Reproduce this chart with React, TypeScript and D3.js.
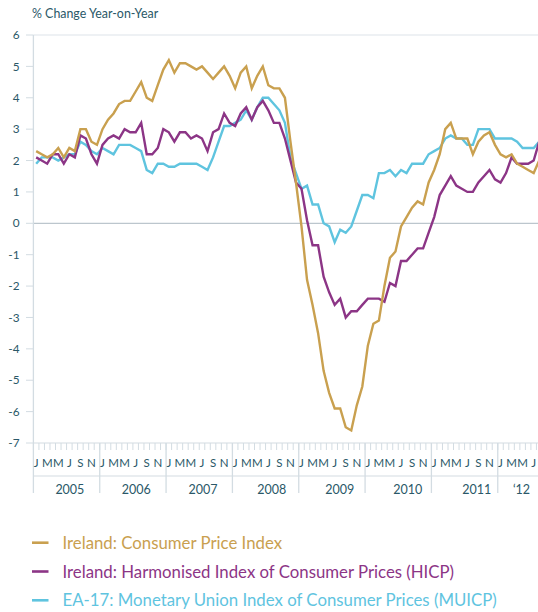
import React from "react";
import * as d3 from "d3";

// Jan 2005 – Aug 2012, monthly, % change year-on-year
const cpi = [
  2.3, 2.2, 2.1, 2.2, 2.4, 2.1, 2.4, 2.3, 3.0, 3.0, 2.6, 2.5,
  3.0, 3.3, 3.5, 3.8, 3.9, 3.9, 4.2, 4.5, 4.0, 3.9, 4.4, 4.9,
  5.2, 4.8, 5.1, 5.1, 5.0, 4.9, 5.0, 4.8, 4.6, 4.8, 5.0, 4.7,
  4.3, 4.8, 5.0, 4.3, 4.7, 5.0, 4.4, 4.3, 4.3, 4.0, 2.6, 1.3,
  -0.1, -1.8, -2.6, -3.5, -4.7, -5.4, -5.9, -5.9, -6.5, -6.6, -5.8, -5.2,
  -3.9, -3.2, -3.1, -2.0, -1.1, -0.9, -0.1, 0.2, 0.5, 0.7, 0.6, 1.3,
  1.7, 2.2, 3.0, 3.2, 2.7, 2.7, 2.7, 2.2, 2.6, 2.8, 2.9, 2.5,
  2.2, 2.1, 2.2, 1.9, 1.8, 1.7, 1.6, 2.0,
];
const hicp = [
  2.1, 2.0, 1.9, 2.2, 2.2, 1.9, 2.2, 2.1, 2.8, 2.7, 2.2, 1.9,
  2.5, 2.7, 2.8, 2.7, 3.0, 2.9, 2.9, 3.2, 2.2, 2.2, 2.4, 3.0,
  2.9, 2.6, 2.9, 2.9, 2.7, 2.8, 2.7, 2.3, 2.9, 3.0, 3.5, 3.2,
  3.1, 3.5, 3.7, 3.3, 3.7, 3.9, 3.6, 3.2, 3.2, 2.7, 2.0, 1.3,
  1.1, 0.1, -0.7, -0.7, -1.7, -2.2, -2.6, -2.4, -3.0, -2.8, -2.8, -2.6,
  -2.4, -2.4, -2.4, -2.5, -1.9, -2.0, -1.2, -1.2, -1.0, -0.8, -0.8, -0.3,
  0.2, 0.9, 1.2, 1.5, 1.2, 1.1, 1.0, 1.0, 1.3, 1.5, 1.7, 1.4,
  1.3, 1.6, 2.1, 1.9, 1.9, 1.9, 2.0, 2.6,
];
const muicp = [
  1.9, 2.1, 2.1, 2.1, 2.0, 2.1, 2.2, 2.2, 2.6, 2.5, 2.3, 2.2,
  2.4, 2.3, 2.2, 2.5, 2.5, 2.5, 2.4, 2.3, 1.7, 1.6, 1.9, 1.9,
  1.8, 1.8, 1.9, 1.9, 1.9, 1.9, 1.8, 1.7, 2.1, 2.6, 3.1, 3.1,
  3.2, 3.3, 3.6, 3.3, 3.7, 4.0, 4.0, 3.8, 3.6, 3.2, 2.1, 1.6,
  1.1, 1.2, 0.6, 0.6, 0.0, -0.1, -0.6, -0.2, -0.3, -0.1, 0.4, 0.9,
  0.9, 0.8, 1.6, 1.6, 1.7, 1.5, 1.7, 1.6, 1.9, 1.9, 1.9, 2.2,
  2.3, 2.4, 2.7, 2.8, 2.7, 2.7, 2.5, 2.5, 3.0, 3.0, 3.0, 2.7,
  2.7, 2.7, 2.7, 2.6, 2.4, 2.4, 2.4, 2.6,
];

const yearLabels = ["2005", "2006", "2007", "2008", "2009", "2010", "2011", "\u201812"];
const monthLetters = ["J", "", "M", "", "M", "", "J", "", "S", "", "N", ""];
const yTicks = [6, 5, 4, 3, 2, 1, 0, -1, -2, -3, -4, -5, -6, -7];

const seriesNames = [
  "Ireland: Consumer Price Index",
  "Ireland: Harmonised Index of Consumer Prices (HICP)",
  "EA-17: Monetary Union Index of Consumer Prices (MUICP)",
];
const seriesColors = ["#c9a04f", "#8c3586", "#5fc4df"];

// layout
const W = 538;
const H = 612;
const X0 = 33.4;
const MONTH_W = 5.528;
const NMONTHS = 92;
const Y_TOP = 35;
const Y_BOT = 443;
const TEXT = "#2a5868";
const FONT = "Lato, 'Open Sans', sans-serif";
// year-label centre positions in month units (as placed in the original)
const yearLabelPos = [6.6, 18.6, 30.7, 43.1, 55.4, 67.7, 80.2, 88.3];

export default function App() {
  const x = d3.scaleLinear().domain([0, NMONTHS]).range([X0, X0 + NMONTHS * MONTH_W]);
  const y = d3.scaleLinear().domain([-7, 6]).range([Y_BOT, Y_TOP]);
  const line = d3
    .line<number>()
    .x((_, i) => x(i + 0.5))
    .y((d) => y(d));

  const data = [cpi, hicp, muicp];
  const gridColor = "#d3dce2";
  const monthIdx = d3.range(NMONTHS);
  const yearStarts = d3.range(0, NMONTHS, 12);

  return (
    <svg
      width={W}
      height={H}
      style={{ position: "absolute", left: 0, top: 0, background: "#fff" }}
      fontFamily={FONT}
    >
      <defs>
        <clipPath id="plot">
          <rect x={X0} y={0} width={W - X0} height={Y_BOT + 5} />
        </clipPath>
      </defs>
      <text x={32} y={17.5} fontSize={12.4} fill={TEXT}>
        % Change Year-on-Year
      </text>

      {/* y ticks and labels */}
      {yTicks.map((t) => (
        <g key={t}>
          <line x1={26} x2={X0} y1={y(t)} y2={y(t)} stroke={gridColor} strokeWidth={1} />
          <text x={19.5} y={y(t)} dy="0.35em" textAnchor="end" fontSize={11.8} fill={TEXT}>
            {t < 0 ? `-${Math.abs(t)}` : t}
          </text>
        </g>
      ))}
      {/* horizontal lines */}
      <line x1={X0} x2={W} y1={y(6)} y2={y(6)} stroke="#dde4e9" strokeWidth={1.2} />
      <line x1={X0} x2={W} y1={y(0)} y2={y(0)} stroke="#bcc6cd" strokeWidth={1.2} />
      <line x1={X0} x2={W} y1={y(-7)} y2={y(-7)} stroke={gridColor} strokeWidth={1.2} />
      <line x1={X0} x2={W} y1={476} y2={476} stroke={gridColor} strokeWidth={1.2} />

      {/* month ticks */}
      {monthIdx.map((i) => (
        <line key={i} x1={x(i)} x2={x(i)} y1={Y_BOT} y2={Y_BOT + 7} stroke={gridColor} strokeWidth={1} />
      ))}
      {/* year dividers */}
      {yearStarts.map((s) => (
        <line key={s} x1={x(s)} x2={x(s)} y1={s === 0 ? Y_TOP : Y_BOT} y2={493} stroke={gridColor} strokeWidth={1.3} />
      ))}
      {/* month letters */}
      {monthIdx.map((i) =>
        monthLetters[i % 12] ? (
          <text key={i} x={x(i + 0.5)} y={466.5} textAnchor="middle" fontSize={11.5} fill={TEXT}>
            {monthLetters[i % 12]}
          </text>
        ) : null
      )}
      {/* year labels */}
      {yearLabels.map((lab, k) => (
        <text key={lab} x={x(yearLabelPos[k])} y={494} textAnchor="middle" fontSize={12.5} fill={TEXT}>
          {lab}
        </text>
      ))}

      {/* series */}
      <g clipPath="url(#plot)">
        {[2, 1, 0].map((k) => (
          <path key={k} d={line(data[k]) || ""} fill="none" stroke={seriesColors[k]} strokeWidth={2.4} />
        ))}
      </g>

      {/* legend */}
      {seriesNames.map((name, k) => (
        <g key={name} transform={`translate(0, ${542.7 + k * 28.8})`}>
          <line x1={32} x2={48.5} y1={0} y2={0} stroke={seriesColors[k]} strokeWidth={2.6} />
          <text x={62.5} y={0} dy="0.36em" fontSize={16.8} fill={seriesColors[k]}>
            {name}
          </text>
        </g>
      ))}
    </svg>
  );
}
